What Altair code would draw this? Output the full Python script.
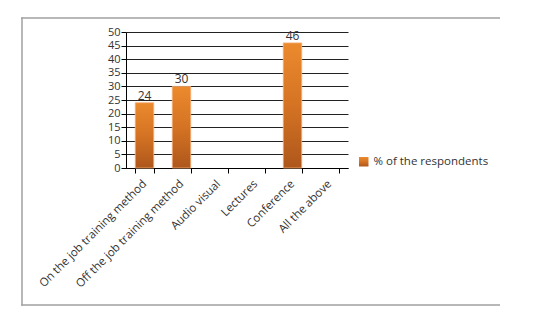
import altair as alt
import pandas as pd

categories = ["On the job training method", "Off the job training method", "Audio visual",
              "Lectures", "Conference", "All the above"]
values = [24, 30, None, None, 46, None]
series_name = "% of the respondents"
y_ticks = [0, 5, 10, 15, 20, 25, 30, 35, 40, 45, 50]

df = pd.DataFrame({"cat": categories, "val": values, "series": [series_name] * len(categories)})
frame_df = pd.DataFrame({"k": [0]})

FONT = "Open Sans"

x_enc = alt.X("cat:N", sort=categories, title=None,
              scale=alt.Scale(paddingInner=0.5, paddingOuter=0.25),
              axis=alt.Axis(labelAngle=-45, labelAlign="right", labelBaseline="middle",
                            labelFontSize=11.5, labelColor="#333333", labelFont=FONT,
                            tickBand="extent", tickColor="#000000", tickSize=5,
                            domainColor="#000000", labelPadding=9, grid=False))

y_enc = alt.Y("val:Q", title=None,
              scale=alt.Scale(domain=[0, 50]),
              axis=alt.Axis(values=y_ticks, labelFontSize=11, labelColor="#333333",
                            labelFont=FONT, tickColor="#000000", tickSize=5, domainColor="#000000",
                            gridColor="#222222", gridWidth=1, labelPadding=1))

bars = alt.Chart(df).mark_bar(
    stroke="#F6B07A", strokeWidth=0.8,
    fill=alt.Gradient(gradient="linear", x1=0, y1=0, x2=0, y2=1,
                      stops=[alt.GradientStop(color="#EC8A2E", offset=0),
                             alt.GradientStop(color="#D47323", offset=0.5),
                             alt.GradientStop(color="#AE571C", offset=1)])
).encode(
    x=x_enc,
    y=y_enc,
    opacity=alt.Opacity("series:N", legend=alt.Legend(
        title=None, orient="none", legendX=232, legendY=124,
        symbolType="square", symbolSize=90, symbolFillColor="#D9741F", symbolStrokeWidth=0,
        labelFont=FONT, labelFontSize=11.5, labelColor="#333333", symbolOpacity=1),
        scale=alt.Scale(range=[1]))
)

labels = alt.Chart(df).mark_text(dy=-7, fontSize=12, font=FONT, color="#333333").encode(
    x=x_enc,
    y=y_enc,
    text=alt.Text("val:Q")
)

def frame_piece(x1, x2, y1, y2):
    return alt.Chart(frame_df).mark_rect(fill="#A0A0A0", strokeWidth=0).encode(
        x=alt.value(x1), x2=alt.value(x2), y=alt.value(y1), y2=alt.value(y2))

frame = alt.layer(
    frame_piece(-104.75, 374, -14.75, -13.25),
    frame_piece(-104.75, 374, 272.25, 273.75),
    frame_piece(-104.75, -103.25, -14.75, 273.75),
)

chart = alt.layer(frame, bars, labels).properties(
    width=222, height=136,
    autosize=alt.AutoSizeParams(type="none"),
    padding={"left": 126, "top": 32, "right": 192, "bottom": 163},
).configure(background="white").configure_view(stroke=None)

chart.save("out.html", embed_options={"renderer": "svg", "actions": False})
